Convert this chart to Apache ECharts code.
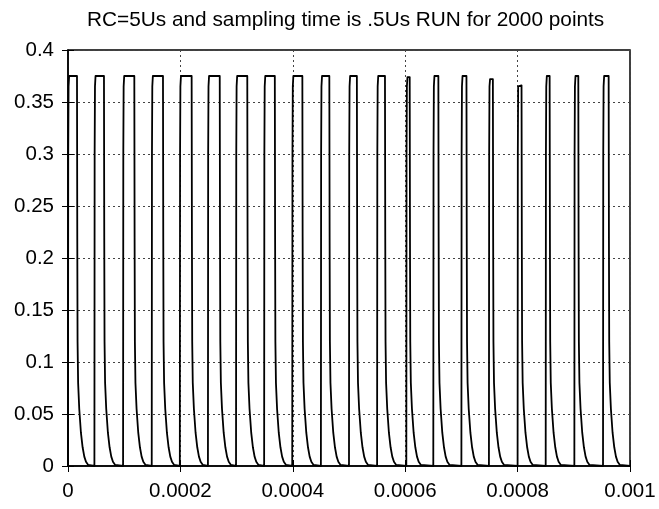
<!DOCTYPE html>
<html>
<head>
<meta charset="utf-8">
<script src="https://cdn.jsdelivr.net/npm/echarts@6/dist/echarts.min.js"></script>
<style>
html,body{margin:0;padding:0;background:#fff;}
#chart{width:659px;height:509px;}
</style>
</head>
<body>
<div id="chart"></div>
<script>
// ---- data ----
const titleText = "RC=5Us and sampling time is .5Us RUN for 2000 points";
const xTicks = [0, 0.0002, 0.0004, 0.0006, 0.0008, 0.001];
const yTicks = [0, 0.05, 0.1, 0.15, 0.2, 0.25, 0.3, 0.35, 0.4];

// time (s) at which each pulse rises
const riseT = [0, 0.000047, 0.000098, 0.000149, 0.000199, 0.000249, 0.000299, 0.000349, 0.000399, 0.000450,
               0.000500, 0.000550, 0.000602, 0.000650, 0.000700, 0.000749, 0.000800, 0.000850, 0.000901, 0.000952];
// time (s) at which each pulse falls
const fallT = [0.000016, 0.000064, 0.000118, 0.000169, 0.000220, 0.000270, 0.000319, 0.000368, 0.000417, 0.000465,
               0.000514, 0.000564, 0.000608, 0.000659, 0.000709, 0.000756, 0.000807, 0.000857, 0.000908, 0.000962];
// pulse top value
const peaks = [0.375, 0.375, 0.375, 0.375, 0.375, 0.375, 0.375, 0.375, 0.375, 0.375,
               0.375, 0.375, 0.374, 0.375, 0.375, 0.372, 0.366, 0.375, 0.375, 0.375];
// rising edge shape (offset in microseconds, value)
const riseOffUs = [0, 0.4, 1, 2];
const riseVal   = [0, 0.30, 0.365, 0.375];
// decay tail shape after the fall (offset in microseconds, value)
const tailOffUs = [0.5, 1, 2, 4, 7, 10, 13, 16, 20, 23];
const tailVal   = [0.22, 0.12, 0.08, 0.055, 0.032, 0.018, 0.009, 0.004, 0.001, 0];
const xEnd = 0.001;

// ---- build series ----
const US = 1e-6;
const seriesData = [];
for (let k = 0; k < riseT.length; k++) {
  const tr = riseT[k], tf = fallT[k], pk = peaks[k];
  for (let i = 0; i < riseOffUs.length; i++) {
    seriesData.push([tr + riseOffUs[i] * US, Math.min(riseVal[i], pk)]);
  }
  seriesData.push([tf, pk]);
  for (let i = 0; i < tailOffUs.length; i++) {
    seriesData.push([tf + tailOffUs[i] * US, tailVal[i]]);
  }
}
seriesData.push([xEnd, 0]);

const FONT = "'Liberation Sans', Arial, Helvetica, sans-serif";
const chart = echarts.init(document.getElementById('chart'), null, {renderer: 'canvas'});
const gridLine = {show: true, lineStyle: {color: '#444', width: 1, type: [2, 3]}};
const xBase = {
  type: 'value', min: xTicks[0], max: xTicks[xTicks.length - 1], interval: 0.0002
};
const yBase = {
  type: 'value', min: yTicks[0], max: yTicks[yTicks.length - 1], interval: 0.05
};
chart.setOption({
  animation: false,
  backgroundColor: '#fff',
  title: {
    text: titleText, left: 82, top: 5,
    textStyle: {fontFamily: FONT, fontSize: 20.8, fontWeight: 'normal', color: '#000'}
  },
  grid: {left: 68, right: 29, top: 50, bottom: 43, show: true, borderColor: '#000', borderWidth: 1.5, backgroundColor: 'transparent'},
  xAxis: [
    Object.assign({}, xBase, {
      position: 'bottom',
      axisLine: {show: true, lineStyle: {color: '#000', width: 1.5}},
      axisTick: {show: true, inside: true, length: 6, lineStyle: {color: '#000', width: 1}},
      axisLabel: {margin: 15, color: '#000', fontFamily: FONT, fontSize: 20.5,
        formatter: v => String(+v.toFixed(4))},
      splitLine: gridLine
    }),
    Object.assign({}, xBase, {
      position: 'top',
      axisLine: {show: false},
      axisTick: {show: true, inside: true, length: 6, lineStyle: {color: '#000', width: 1}},
      axisLabel: {show: false},
      splitLine: {show: false}
    })
  ],
  yAxis: [
    Object.assign({}, yBase, {
      position: 'left',
      axisLine: {show: true, lineStyle: {color: '#000', width: 1.5}},
      axisTick: {show: true, inside: true, length: 6, lineStyle: {color: '#000', width: 1}},
      axisLabel: {margin: 14, color: '#000', fontFamily: FONT, fontSize: 20.5,
        formatter: v => String(+v.toFixed(2))},
      splitLine: gridLine
    }),
    Object.assign({}, yBase, {
      position: 'right',
      axisLine: {show: false},
      axisTick: {show: true, inside: true, length: 6, lineStyle: {color: '#000', width: 1}},
      axisLabel: {show: false},
      splitLine: {show: false}
    })
  ],
  series: [{
    type: 'line',
    xAxisIndex: 0, yAxisIndex: 0,
    data: seriesData,
    showSymbol: false,
    symbol: 'none',
    lineStyle: {color: '#000', width: 1.8, join: 'round'},
    z: 3
  }]
});
</script>
</body>
</html>
